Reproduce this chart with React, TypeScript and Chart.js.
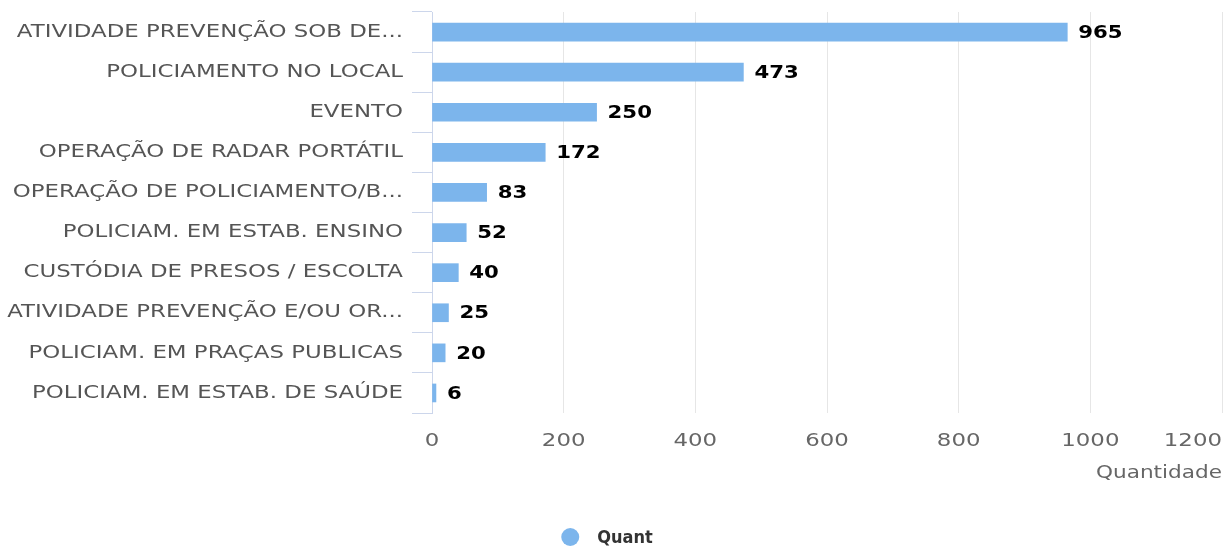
import React, { useEffect, useRef } from "react";
import { Chart, registerables } from "chart.js";

Chart.register(...registerables);

const categories = [
  "ATIVIDADE PREVENÇÃO SOB DE...",
  "POLICIAMENTO NO LOCAL",
  "EVENTO",
  "OPERAÇÃO DE RADAR PORTÁTIL",
  "OPERAÇÃO DE POLICIAMENTO/B...",
  "POLICIAM. EM ESTAB. ENSINO",
  "CUSTÓDIA DE PRESOS / ESCOLTA",
  "ATIVIDADE PREVENÇÃO E/OU OR...",
  "POLICIAM. EM PRAÇAS PUBLICAS",
  "POLICIAM. EM ESTAB. DE SAÚDE",
];
const quant = [965, 473, 250, 172, 83, 52, 40, 25, 20, 6];
const seriesName = "Quant";
const axisTitle = "Quantidade";
const xMin = 0;
const xMax = 1200;
const xStep = 200;

const FONT = "'DejaVu Sans', sans-serif";
const BAR_COLOR = "#7cb5ec";
const AXIS_TEXT_SCALE = 1.27;

// Widen glyphs horizontally (reference uses a wide sans face)
const wideText = {
  id: "wideText",
  afterInit(chart: any) {
    const ctx = chart.ctx;
    const orig = ctx.fillText;
    chart.$textScaleX = AXIS_TEXT_SCALE;
    ctx.fillText = function (text: string, x: number, y: number, maxWidth?: number) {
      const sx = chart.$textScaleX ?? 1;
      if (sx === 1) {
        return maxWidth === undefined ? orig.call(ctx, text, x, y) : orig.call(ctx, text, x, y, maxWidth);
      }
      ctx.save();
      ctx.translate(x, y);
      ctx.scale(sx, 1);
      if (maxWidth === undefined) orig.call(ctx, text, 0, 0);
      else orig.call(ctx, text, 0, 0, maxWidth / sx);
      ctx.restore();
    };
  },
  beforeDraw(chart: any) {
    chart.$textScaleX = AXIS_TEXT_SCALE;
    // keep the first x label ("0") centred on its tick; only the last one is pushed inside
    const xs = chart.scales.x;
    const items = xs.getLabelItems(chart.chartArea);
    if (items && items[0]) items[0].options.textAlign = "center";
  },
};

const dataLabels = {
  id: "dataLabels",
  afterDatasetsDraw(chart: any) {
    const ctx = chart.ctx;
    const meta = chart.getDatasetMeta(0);
    const prev = chart.$textScaleX;
    chart.$textScaleX = 1.18;
    ctx.save();
    ctx.font = `bold 18px ${FONT}`;
    ctx.fillStyle = "#000000";
    ctx.textAlign = "left";
    ctx.textBaseline = "middle";
    meta.data.forEach((bar: any, i: number) => {
      ctx.fillText(String(chart.data.datasets[0].data[i]), bar.x + 11, bar.y + 1);
    });
    ctx.restore();
    chart.$textScaleX = prev;
  },
};

const customLegend = {
  id: "customLegend",
  afterDraw(chart: any) {
    const ctx = chart.ctx;
    const ds = chart.data.datasets[0];
    const prev = chart.$textScaleX;
    chart.$textScaleX = 1;
    ctx.save();
    ctx.font = `bold 18px 'DejaVu Sans Condensed', 'DejaVu Sans', sans-serif`;
    const tw = ctx.measureText(ds.label).width;
    const r = 9;
    const gap = 18;
    const total = r * 2 + gap + tw;
    const x0 = chart.width / 2 - total / 2 - 6;
    const cy = chart.height - 11;
    ctx.fillStyle = ds.backgroundColor;
    ctx.beginPath();
    ctx.arc(x0 + r, cy, r, 0, Math.PI * 2);
    ctx.fill();
    ctx.fillStyle = "#333333";
    ctx.textAlign = "left";
    ctx.textBaseline = "middle";
    ctx.fillText(ds.label, x0 + r * 2 + gap, cy + 1);
    ctx.restore();
    chart.$textScaleX = prev;
  },
};

export default function App() {
  const ref = useRef<HTMLCanvasElement>(null);
  useEffect(() => {
    if (!ref.current) return;
    const chart = new Chart(ref.current, {
      type: "bar",
      data: {
        labels: categories,
        datasets: [
          {
            label: seriesName,
            data: quant,
            backgroundColor: BAR_COLOR,
            borderWidth: 0,
            barThickness: 18,
          },
        ],
      },
      options: {
        indexAxis: "y",
        animation: false,
        responsive: false,
        layout: { padding: { top: 12, right: 4, bottom: 64, left: 0 } },
        scales: {
          x: {
            min: xMin,
            max: xMax,
            ticks: {
              stepSize: xStep,
              color: "#666666",
              font: { family: FONT, size: 18 },
              padding: 18,
              align: "inner",
              callback: (v: any) => String(v),
            },
            grid: { color: "#e6e6e6", drawTicks: false },
            border: { display: false },
            title: {
              display: true,
              text: axisTitle,
              align: "end",
              color: "#666666",
              font: { family: FONT, size: 17 },
              padding: { top: 8, bottom: 0 },
            },
            afterFit: (s: any) => {
              s.height = 71;
              s.paddingLeft = 0;
              s.paddingRight = 0;
            },
          },
          y: {
            ticks: {
              color: "#555555",
              font: { family: FONT, size: 18 },
              padding: 9,
              autoSkip: false,
            },
            grid: {
              offset: true,
              drawOnChartArea: false,
              tickLength: 20,
              color: "#ccd6eb",
            },
            border: { display: true, color: "#ccd6eb" },
            afterFit: (s: any) => {
              s.width = 432;
              s.paddingTop = 0;
              s.paddingBottom = 0;
            },
          },
        },
        plugins: {
          legend: { display: false },
          tooltip: { enabled: false },
        },
      },
      plugins: [wideText, dataLabels, customLegend],
    });
    return () => chart.destroy();
  }, []);
  return (
    <div style={{ position: "fixed", left: 0, top: 0, width: 1226, height: 548, background: "#fff" }}>
      <canvas ref={ref} width={1226} height={548} />
    </div>
  );
}
